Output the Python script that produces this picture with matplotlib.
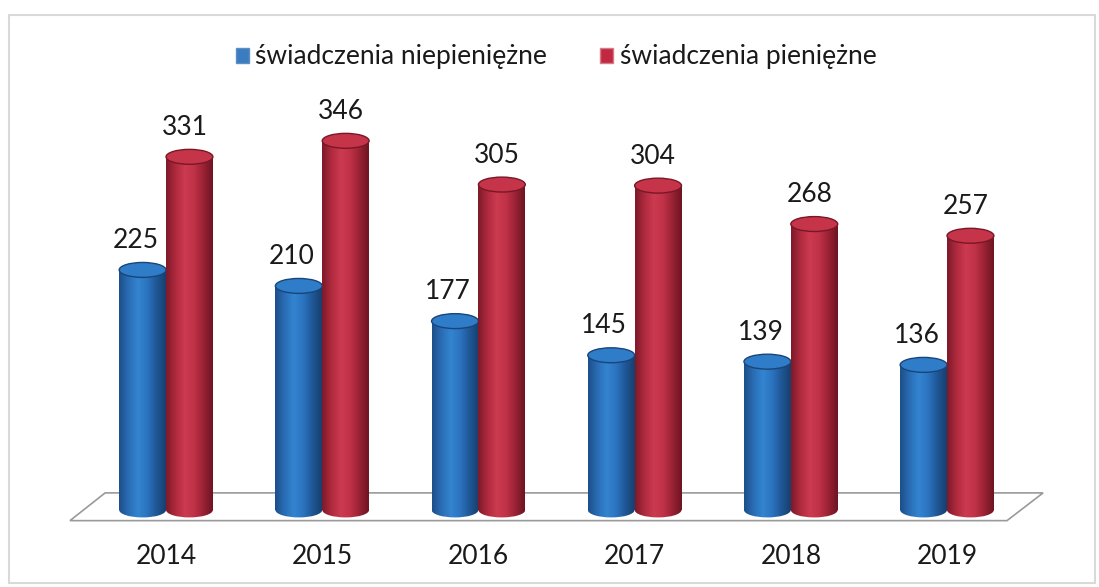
import numpy as np
import matplotlib
matplotlib.use("Agg")
import matplotlib.pyplot as plt
from matplotlib.patches import Rectangle, Ellipse, Polygon, Patch
from matplotlib.colors import LinearSegmentedColormap

# ----------------------------------------
# DATA
# ----------------------------------------
years = ["2014", "2015", "2016", "2017", "2018", "2019"]
niepieniezne = [225, 210, 177, 145, 139, 136]
pieniezne = [331, 346, 305, 304, 268, 257]
series_names = ["świadczenia niepieniężne", "świadczenia pieniężne"]

plt.rcParams["font.family"] = ["Lato", "DejaVu Sans"]

# shading across each cylinder: dark edge -> light -> dark edge
blue_cmap = LinearSegmentedColormap.from_list(
    "blue_cyl", ["#1d4f8a", "#2a6db5", "#3384d0", "#2c74c0", "#1f5896", "#173f70"])
red_cmap = LinearSegmentedColormap.from_list(
    "red_cyl", ["#7e1a2a", "#b02a3e", "#cc3a50", "#c03248", "#9a2234", "#6e1422"])

fig = plt.figure(figsize=(10.99, 5.87), dpi=100)
ax = fig.add_axes([0, 0, 1, 1])
ax.set_xlim(-1.063, 5.973)
ax.set_ylim(-72.2, 478)
ax.axis("off")

# floor of the 3D chart
floor = Polygon([[-0.615, -10], [5.384, -10], [5.615, 16], [-0.39, 16]],
                closed=True, facecolor="white", edgecolor="#9a9a9a", lw=1.2, zorder=1)
ax.add_patch(floor)

width = 0.3
cap_h = 14
grad = np.linspace(0, 1, 64).reshape(1, -1)


def cylinder(xc, val, cmap, top_color, z):
    x0, x1 = xc - width / 2, xc + width / 2
    body = Rectangle((x0, 0), width, val, facecolor="none", edgecolor="none")
    ax.add_patch(body)
    im = ax.imshow(grad, cmap=cmap, extent=[x0, x1, 0, val], aspect="auto",
                   zorder=z, interpolation="bicubic")
    im.set_clip_path(body)
    bottom = Ellipse((xc, 0), width, cap_h, facecolor="none", edgecolor="none")
    ax.add_patch(bottom)
    im2 = ax.imshow(grad, cmap=cmap, extent=[x0, x1, -cap_h, 0], aspect="auto",
                    zorder=z, interpolation="bicubic")
    im2.set_clip_path(bottom)
    top = Ellipse((xc, val), width, cap_h, facecolor=top_color,
                  edgecolor=cmap(0.95), lw=1.0, zorder=z + 0.1)
    ax.add_patch(top)


for i, yr in enumerate(years):
    xb = i - width / 2
    xr = i + width / 2
    cylinder(xb, niepieniezne[i], blue_cmap, "#2f7cc8", 3)
    cylinder(xr, pieniezne[i], red_cmap, "#c53449", 4)
    ax.text(xb - 0.045, niepieniezne[i] + 16, str(niepieniezne[i]), ha="center",
            va="bottom", fontsize=19, color="#1a1a1a", zorder=6)
    ax.text(xr - 0.03, pieniezne[i] + 16, str(pieniezne[i]), ha="center",
            va="bottom", fontsize=19, color="#1a1a1a", zorder=6)
    ax.text(i, -44, yr, ha="center", va="center", fontsize=19,
            color="#1a1a1a", zorder=6)

# legend at the top
handles = [Patch(facecolor="#3a7cc0", edgecolor="#5d8fc4"),
           Patch(facecolor="#c2283f", edgecolor="#d77b8a")]
fig.legend(handles, series_names, loc="center", bbox_to_anchor=(0.506, 0.903),
           ncol=2, frameon=False, fontsize=19, handlelength=0.5, handleheight=0.5,
           handletextpad=0.25, columnspacing=2.0, labelcolor="#1a1a1a")

# faint frame round the chart
frame = Rectangle((0.008, 0.007), 0.988, 0.968, transform=fig.transFigure,
                  facecolor="none", edgecolor="#d9d9d9", lw=1.5)
fig.patches.append(frame)

fig.savefig("out.png", dpi=100, facecolor="white")
